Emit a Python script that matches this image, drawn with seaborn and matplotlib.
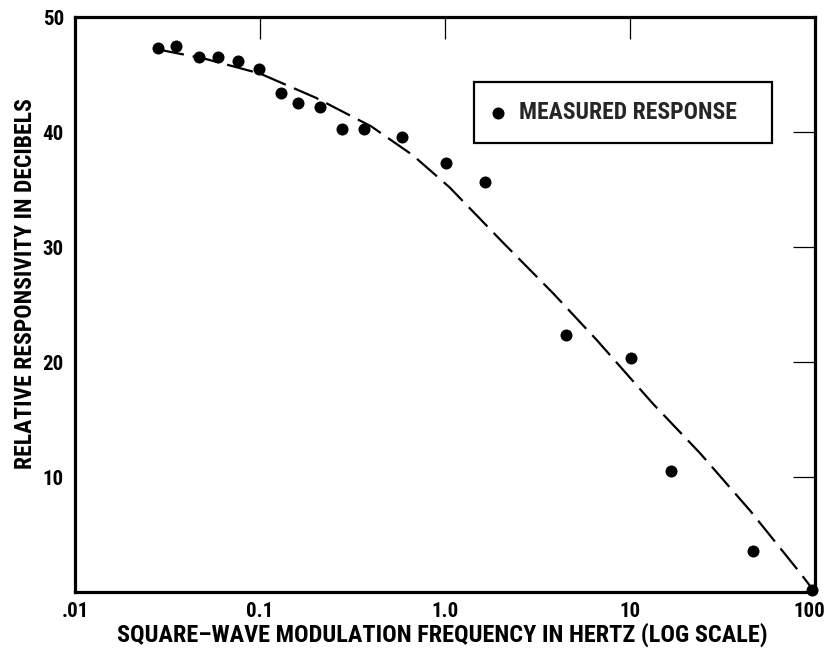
import matplotlib
matplotlib.use("Agg")
import matplotlib.pyplot as plt
from matplotlib import font_manager
from matplotlib.ticker import NullLocator
from matplotlib.transforms import ScaledTranslation
import seaborn as sns

# Measured detector response vs. square-wave modulation frequency
freq_hz = [0.028, 0.035, 0.047, 0.059, 0.076, 0.099, 0.130, 0.160, 0.211,
           0.277, 0.365, 0.585, 1.01, 1.64, 4.5, 10.1, 16.7, 46.2, 96.0]
response_db = [47.3, 47.5, 46.5, 46.5, 46.2, 45.5, 43.4, 42.5, 42.2,
               40.3, 40.3, 39.6, 37.3, 35.7, 22.4, 20.4, 10.5, 3.6, 0.2]

# Fitted response curve (dashed)
fit_freq_hz = [0.028, 0.05, 0.1, 0.2, 0.4, 0.67, 1.06, 2.06, 3.84, 6.64,
               13.3, 23.9, 44.6, 83.0, 100.0]
fit_db = [47.2, 46.4, 45.1, 43.0, 40.5, 38.0, 35.2, 30.4, 26.0, 21.9,
          16.4, 12.1, 7.1, 1.7, 0.0]

x_ticks = [0.01, 0.1, 1.0, 10, 100]
x_tick_labels = [".01", "0.1", "1.0", "10", "100"]
y_ticks = [10, 20, 30, 40, 50]
y_tick_labels = ["10", "20", "30", "40", "50"]

sns.set_theme(style="white")
available = {f.name for f in font_manager.fontManager.ttflist}
family = next((n for n in ["Liberation Sans Narrow", "Roboto Condensed",
                           "Liberation Sans"] if n in available), "DejaVu Sans")
plt.rcParams["font.family"] = [family, "DejaVu Sans"]
plt.rcParams["font.weight"] = "bold"

fig, ax = plt.subplots(figsize=(8.24, 6.61), dpi=100)
fig.subplots_adjust(left=0.091, right=0.989, bottom=0.104, top=0.974)

sns.lineplot(x=fit_freq_hz, y=fit_db, ax=ax, color="black", linewidth=1.6,
             linestyle=(0, (12, 4)), legend=False)
sns.scatterplot(x=freq_hz, y=response_db, ax=ax, color="black", s=75,
                linewidth=0, label="MEASURED RESPONSE", zorder=3, clip_on=False)

ax.set_xscale("log")
ax.set_xlim(0.01, 100)
ax.set_ylim(0, 50)
ax.set_xticks(x_ticks)
ax.set_xticklabels(x_tick_labels)
ax.set_yticks(y_ticks)
ax.set_yticklabels(y_tick_labels)
ax.xaxis.set_minor_locator(NullLocator())
ax.yaxis.set_minor_locator(NullLocator())
ax.tick_params(axis="both", direction="in", length=16, width=0.9,
               top=True, right=True, labelsize=15, colors="black")
ax.tick_params(axis="x", pad=7)
ax.tick_params(axis="y", pad=8)
for side in ax.spines.values():
    side.set_visible(True)
    side.set_linewidth(2.3)
    side.set_color("black")

# keep the rightmost frequency label inside the figure
last = ax.get_xticklabels()[-1]
last.set_horizontalalignment("right")
last.set_transform(last.get_transform() + ScaledTranslation(0.1, 0, fig.dpi_scale_trans))

ax.set_xlabel("SQUARE\u2013WAVE MODULATION FREQUENCY IN HERTZ (LOG SCALE)",
              fontsize=17.5, fontweight="bold", color="black")
ax.set_ylabel("RELATIVE RESPONSIVITY IN DECIBELS", fontsize=17,
              fontweight="bold", color="black")
ax.xaxis.set_label_coords(0.496, -0.052)
ax.yaxis.set_label_coords(-0.051, 0.537)

leg = ax.legend(loc="upper left", bbox_to_anchor=(0.539, 0.779, 0.403, 0.108),
                mode="expand", frameon=True, fancybox=False, framealpha=1,
                edgecolor="black", borderpad=0.8, handlelength=0.42,
                handletextpad=0.68, borderaxespad=0,
                prop={"size": 17, "weight": "bold"})
leg.get_frame().set_linewidth(1.6)

fig.savefig("out.png", dpi=100)
